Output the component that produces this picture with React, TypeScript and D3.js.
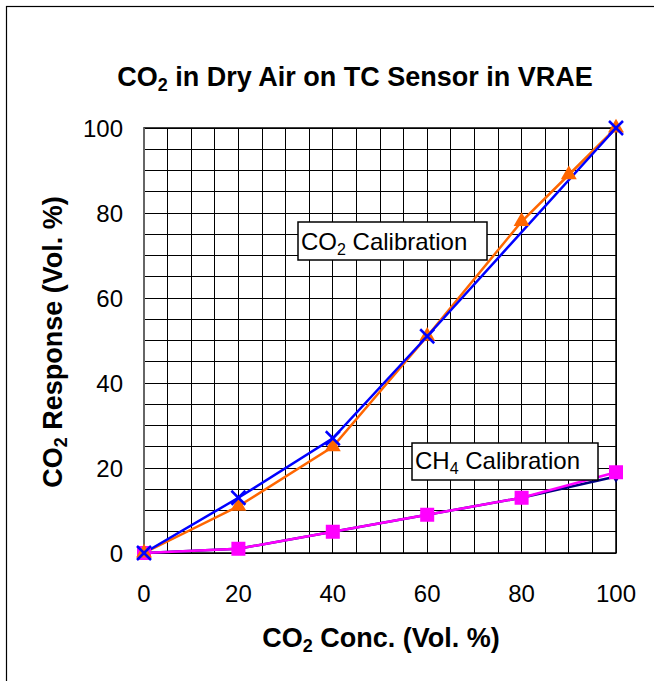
import React from "react";
import * as d3 from "d3";

const xTicks = [0, 20, 40, 60, 80, 100];
const yTicks = [0, 20, 40, 60, 80, 100];

const blueX = [0, 20, 40, 60, 100];
const blueY = [0, 13, 27, 51, 100];

const orangeX = [0, 20, 40, 60, 80, 90, 100];
const orangeY = [0, 11, 25, 51, 78, 89, 100];

const navyX = [0, 20, 40, 60, 80, 100];
const navyY = [0, 1, 5, 9, 13, 18];

const magentaX = [0, 20, 40, 60, 80, 100];
const magentaY = [0, 1, 5, 9, 13, 19];

const W = 654;
const H = 681;
const left = 144, right = 616, top = 128, bottom = 553;
const FONT = "'Liberation Sans', Arial, sans-serif";

export default function App() {
  const x = d3.scaleLinear().domain([0, 100]).range([left, right]);
  const y = d3.scaleLinear().domain([0, 100]).range([bottom, top]);
  const grid = d3.range(0, 101, 5);
  const line = d3.line<[number, number]>().x(d => x(d[0])).y(d => y(d[1]));
  const zip = (a: number[], b: number[]) => a.map((v, i) => [v, b[i]] as [number, number]);

  const blue = zip(blueX, blueY);
  const orange = zip(orangeX, orangeY);
  const navy = zip(navyX, navyY);
  const magenta = zip(magentaX, magentaY);

  return (
    <div style={{ position: "absolute", left: 0, top: 0 }}>
      <svg width={W} height={H} style={{ display: "block", background: "#fff" }} fontFamily={FONT}>
        <rect x={6.5} y={6.5} width={W + 10} height={H + 10} fill="#fff" stroke="#000" strokeWidth={1.2} />
        {/* grid */}
        {grid.map(g => (
          <line key={"v" + g} x1={x(g)} x2={x(g)} y1={top} y2={bottom} stroke="#000" strokeWidth={1} shapeRendering="crispEdges" />
        ))}
        {grid.map(g => (
          <line key={"h" + g} x1={left} x2={right} y1={y(g)} y2={y(g)} stroke="#000" strokeWidth={1} shapeRendering="crispEdges" />
        ))}
        <rect x={left} y={top} width={right - left} height={bottom - top} fill="none" stroke="#000" strokeWidth={1.5} />
        <line x1={left} x2={left} y1={top} y2={bottom} stroke="#666" strokeWidth={2} />
        {/* ticks labels */}
        {yTicks.map(t => (
          <text key={"yt" + t} x={123} y={y(t) + 9} textAnchor="end" fontSize={24}>{t}</text>
        ))}
        {xTicks.map(t => (
          <text key={"xt" + t} x={x(t)} y={602} textAnchor="middle" fontSize={24}>{t}</text>
        ))}
        {/* lines */}
        <path d={line(navy) || ""} fill="none" stroke="#000080" strokeWidth={2.5} />
        <path d={line(magenta) || ""} fill="none" stroke="#ff00ff" strokeWidth={2.5} />
        <path d={line(orange) || ""} fill="none" stroke="#ff6600" strokeWidth={2.5} />
        <path d={line(blue) || ""} fill="none" stroke="#0000ff" strokeWidth={2.5} />
        {/* navy markers */}
        {navy.map((d, i) => (
          <path key={"n" + i} d={d3.symbol(d3.symbolDiamond, 50)() || ""} transform={`translate(${x(d[0])},${y(d[1])})`} fill="#000080" />
        ))}
        {/* magenta squares */}
        {magenta.map((d, i) => (
          <rect key={"m" + i} x={x(d[0]) - 7} y={y(d[1]) - 7} width={14} height={14} fill="#ff00ff" />
        ))}
        {/* orange triangles */}
        {orange.map((d, i) => (
          <path key={"o" + i} d={d3.symbol(d3.symbolTriangle, 110)() || ""} transform={`translate(${x(d[0])},${y(d[1])})`} fill="#ff6600" />
        ))}
        {/* blue crosses */}
        {blue.map((d, i) => (
          <g key={"b" + i} transform={`translate(${x(d[0])},${y(d[1])})`} stroke="#0000ff" strokeWidth={2.5}>
            <line x1={-7} y1={-7} x2={7} y2={7} />
            <line x1={-7} y1={7} x2={7} y2={-7} />
          </g>
        ))}
        {/* annotations */}
        <rect x={298} y={222} width={189} height={38} fill="#fff" stroke="#000" strokeWidth={1.5} />
        <text x={301} y={250} fontSize={24}>CO<tspan dy={5} fontSize={16}>2</tspan><tspan dy={-5}> Calibration</tspan></text>
        <rect x={412} y={443} width={186} height={37} fill="#fff" stroke="#000" strokeWidth={1.5} />
        <text x={415} y={469} fontSize={24}>CH<tspan dy={5} fontSize={16}>4</tspan><tspan dy={-5}> Calibration</tspan></text>
        {/* title */}
        <text x={355} y={86} textAnchor="middle" fontSize={27} fontWeight="bold">CO<tspan dy={5} fontSize={18}>2</tspan><tspan dy={-5}> in Dry Air on TC Sensor in VRAE</tspan></text>
        {/* axis labels */}
        <text x={381} y={647} textAnchor="middle" fontSize={27} fontWeight="bold">CO<tspan dy={5} fontSize={18}>2</tspan><tspan dy={-5}> Conc. (Vol. %)</tspan></text>
        <text transform={`translate(62,342) rotate(-90)`} textAnchor="middle" fontSize={27} fontWeight="bold">CO<tspan dy={5} fontSize={18}>2</tspan><tspan dy={-5}> Response (Vol. %)</tspan></text>
      </svg>
    </div>
  );
}
